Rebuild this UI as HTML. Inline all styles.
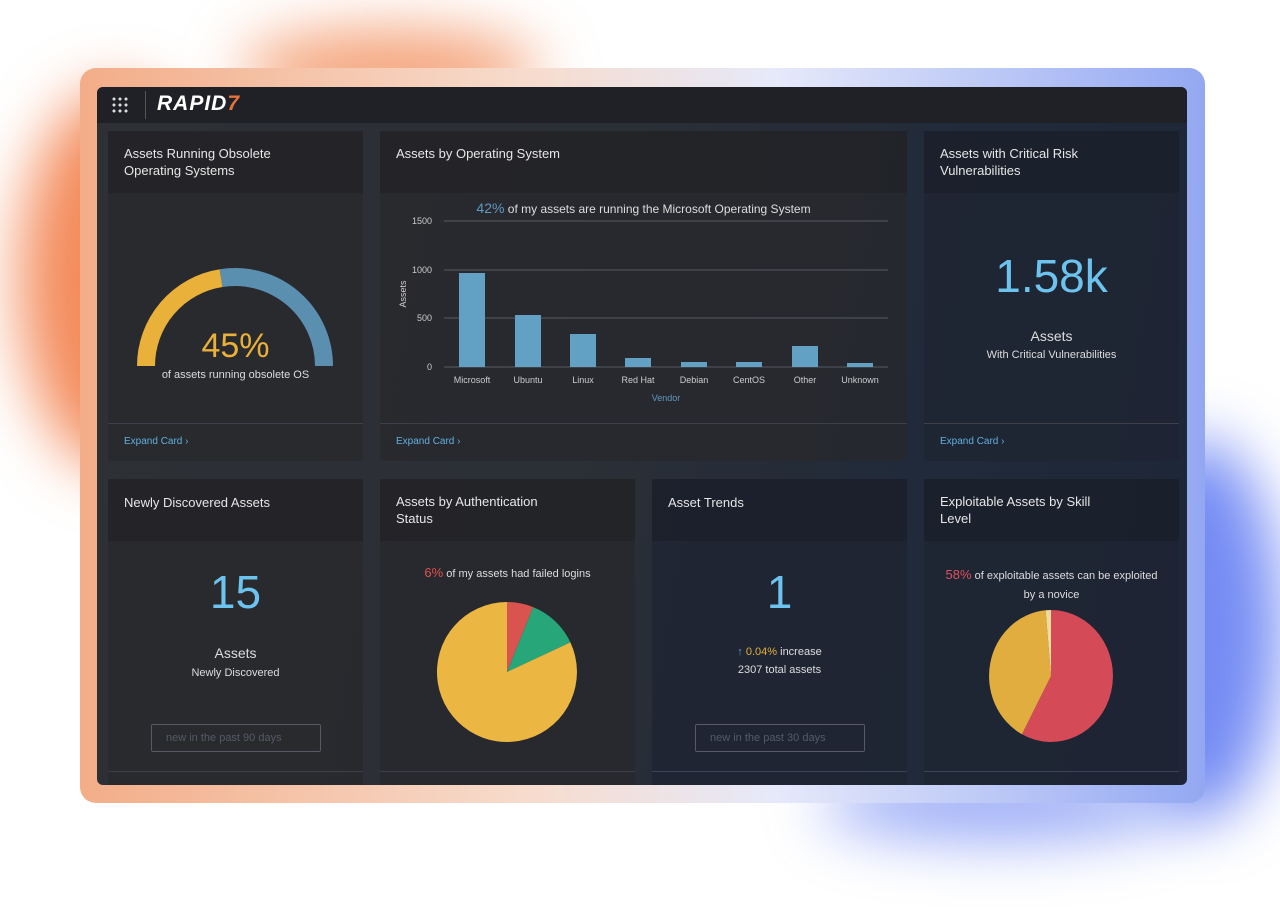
<!DOCTYPE html>
<html><head><meta charset="utf-8"><style>
*{margin:0;padding:0;box-sizing:border-box}
body{width:1280px;height:907px;background:#fff;position:relative;overflow:hidden;font-family:"Liberation Sans",sans-serif}
.g{position:absolute;border-radius:50%;filter:blur(30px)}
.frame{position:absolute;left:80px;top:68px;width:1125px;height:735px;border-radius:16px;background:linear-gradient(90deg,#f3ad88,#f7dccd 40%,#e6e9fa 62%,#93a8f2)}
.screen{position:absolute;left:97px;top:87px;width:1090px;height:698px;border-radius:6px;overflow:hidden;background:linear-gradient(100deg,#2d3035 0%,#2b2f36 45%,#202a3a 75%,#1e2638 100%)}
.hdr{position:absolute;left:0;top:0;width:1090px;height:36px;background:#1f2126}
.card{position:absolute;background:rgba(40,40,44,.75);border-radius:3px}
.card.n{background:rgba(30,36,50,.85)}
.ch{position:absolute;left:0;top:0;right:0;height:62px;background:rgba(0,0,0,.12);color:#e6e6e6;font-size:13px;line-height:17px;padding:14px 16px}
.ft{position:absolute;left:0;right:0;top:292px;border-top:1px solid #3d4048;height:38px;color:#5fb0e0;font-size:10px;padding:12px 16px}
.t{position:absolute;color:#ddd;text-align:center;white-space:nowrap}
.sel{position:absolute;height:28px;border:1px solid #555a64;border-radius:2px;color:#555b66;font-size:11px;padding:7px 14px}
</style></head><body>
<div class="g" style="left:20px;top:90px;width:190px;height:380px;background:rgba(240,110,50,.8)"></div>
<div class="g" style="left:240px;top:30px;width:300px;height:80px;background:rgba(240,120,60,.7)"></div>
<div class="g" style="left:1120px;top:440px;width:160px;height:380px;background:rgba(70,100,240,.75)"></div>
<div class="g" style="left:820px;top:770px;width:360px;height:70px;background:rgba(80,110,240,.6)"></div>
<div class="frame"></div>
<div class="screen">
<div class="hdr">
<div style="position:absolute;left:14px;top:9px;width:18px;height:18px;background:radial-gradient(circle,#ddd 1.4px,transparent 1.6px) 0 0/6px 6px"></div>
<div style="position:absolute;left:48px;top:4px;width:1px;height:28px;background:#555"></div>
<div style="position:absolute;left:60px;top:5px;color:#fff;font-size:21px;font-weight:bold;font-style:italic;letter-spacing:1px">RAPID<span style="color:#e8733a">7</span></div>
</div>

<div class="card" style="left:11px;top:44px;width:255px;height:330px">
<div class="ch">Assets Running Obsolete<br>Operating Systems</div>
<svg style="position:absolute;left:0;top:0" width="255" height="330">
<path d="M38 235 A89 89 0 0 1 113.1 147.1" stroke="#e9b03a" stroke-width="18" fill="none"/>
<path d="M113.1 147.1 A89 89 0 0 1 216 235" stroke="#5b8fb0" stroke-width="18" fill="none"/>
</svg>
<div class="t" style="left:0;width:255px;top:196px;font-size:34px;color:#e9b03a">45%</div>
<div class="t" style="left:0;width:255px;top:238px;font-size:11px">of assets running obsolete OS</div>
<div class="ft">Expand Card ›</div>
</div>

<div class="card" style="left:283px;top:44px;width:527px;height:330px">
<div class="ch">Assets by Operating System</div>
<div class="t" style="left:0;width:527px;top:69px;font-size:12px"><span style="color:#5d9ac0;font-size:14px">42%</span> of my assets are running the Microsoft Operating System</div>
<svg style="position:absolute;left:0;top:0" width="527" height="330" font-family="Liberation Sans" font-size="9" fill="#ccc">
<g stroke="#555a60" stroke-width="1">
<line x1="64" y1="90" x2="508" y2="90"/><line x1="64" y1="139" x2="508" y2="139"/><line x1="64" y1="187" x2="508" y2="187"/><line x1="64" y1="236" x2="508" y2="236"/></g>
<g text-anchor="end"><text x="52" y="93">1500</text><text x="52" y="142">1000</text><text x="52" y="190">500</text><text x="52" y="239">0</text></g>
<text transform="translate(26,163) rotate(-90)" text-anchor="middle">Assets</text>
<g fill="#62a0c4">
<rect x="79" y="142" width="26" height="94"/><rect x="135" y="184" width="26" height="52"/><rect x="190" y="203" width="26" height="33"/><rect x="245" y="227" width="26" height="9"/><rect x="301" y="231" width="26" height="5"/><rect x="356" y="231" width="26" height="5"/><rect x="412" y="215" width="26" height="21"/><rect x="467" y="232" width="26" height="4"/></g>
<g text-anchor="middle"><text x="92" y="252">Microsoft</text><text x="148" y="252">Ubuntu</text><text x="203" y="252">Linux</text><text x="258" y="252">Red Hat</text><text x="314" y="252">Debian</text><text x="369" y="252">CentOS</text><text x="425" y="252">Other</text><text x="480" y="252">Unknown</text>
<text x="286" y="270" fill="#5d9ac0">Vendor</text></g>
</svg>
<div class="ft">Expand Card ›</div>
</div>

<div class="card n" style="left:827px;top:44px;width:255px;height:330px">
<div class="ch">Assets with Critical Risk<br>Vulnerabilities</div>
<div class="t" style="left:0;width:255px;top:118px;font-size:46px;color:#6cc4ee">1.58k</div>
<div class="t" style="left:0;width:255px;top:197px;font-size:14px">Assets</div>
<div class="t" style="left:0;width:255px;top:218px;font-size:11px">With Critical Vulnerabilities</div>
<div class="ft">Expand Card ›</div>
</div>

<div class="card" style="left:11px;top:392px;width:255px;height:320px">
<div class="ch" style="padding-top:15px">Newly Discovered Assets</div>
<div class="t" style="left:0;width:255px;top:86px;font-size:46px;color:#6cc4ee">15</div>
<div class="t" style="left:0;width:255px;top:166px;font-size:14px">Assets</div>
<div class="t" style="left:0;width:255px;top:188px;font-size:11px">Newly Discovered</div>
<div class="sel" style="left:43px;top:245px;width:170px">new in the past 90 days</div>
<div style="position:absolute;left:0;right:0;top:292px;border-top:1px solid #3d4048"></div>
</div>

<div class="card" style="left:283px;top:392px;width:255px;height:320px">
<div class="ch">Assets by Authentication<br>Status</div>
<div class="t" style="left:0;width:255px;top:86px;font-size:11px"><span style="color:#e05050;font-size:13px">6%</span> of my assets had failed logins</div>
<svg style="position:absolute;left:0;top:0" width="255" height="320">
<path d="M127 193 L127 123 A70 70 0 0 1 153.2 128.1Z" fill="#d9534f"/>
<path d="M127 193 L153.2 128.1 A70 70 0 0 1 190.4 163.4Z" fill="#27a67a"/>
<path d="M127 193 L190.4 163.4 A70 70 0 1 1 127 123Z" fill="#ebb742"/>
</svg>
<div style="position:absolute;left:0;right:0;top:292px;border-top:1px solid #3d4048"></div>
</div>

<div class="card n" style="left:555px;top:392px;width:255px;height:320px">
<div class="ch" style="padding-top:15px">Asset Trends</div>
<div class="t" style="left:0;width:255px;top:86px;font-size:46px;color:#6cc4ee">1</div>
<div class="t" style="left:0;width:255px;top:167px;font-size:11px"><span style="color:#5d9ac0">↑</span> <span style="color:#e2b03c">0.04%</span> increase</div>
<div class="t" style="left:0;width:255px;top:185px;font-size:11px">2307 total assets</div>
<div class="sel" style="left:43px;top:245px;width:170px">new in the past 30 days</div>
<div style="position:absolute;left:0;right:0;top:292px;border-top:1px solid #3a4456"></div>
</div>

<div class="card n" style="left:827px;top:392px;width:255px;height:320px">
<div class="ch">Exploitable Assets by Skill<br>Level</div>
<div class="t" style="left:0;width:255px;top:86px;font-size:11px;line-height:19px"><span style="color:#e05060;font-size:13px">58%</span> of exploitable assets can be exploited<br>by a novice</div>
<svg style="position:absolute;left:0;top:0" width="255" height="320">
<path d="M127 197 L127 131 A62 66 0 1 1 97.9 255.3Z" fill="#d44a56"/>
<path d="M127 197 L97.9 255.3 A62 66 0 0 1 121.6 131.3Z" fill="#e1ad3f"/>
<path d="M127 197 L121.6 131.3 A62 66 0 0 1 127 131Z" fill="#eedc9a"/>
</svg>
<div style="position:absolute;left:0;right:0;top:292px;border-top:1px solid #3a4456"></div>
</div>
</div>
</body></html>
